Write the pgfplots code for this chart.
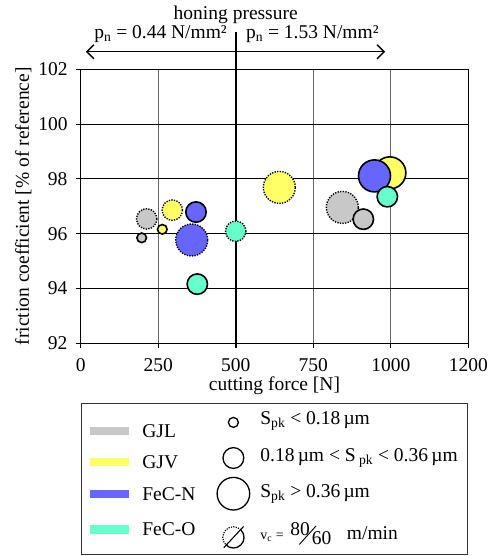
\documentclass[border=0pt]{standalone}
\usepackage{fontspec}
\setmainfont{Liberation Serif}
\usepackage{pgfplots}
\pgfplotsset{compat=1.18}
\usetikzlibrary{arrows.meta}

\definecolor{gjl}{HTML}{C8C8C8}
\definecolor{gjv}{HTML}{FFFF66}
\definecolor{fecn}{HTML}{6666FF}
\definecolor{feco}{HTML}{66FFCC}

\pgfplotsset{
  solidb/.style={only marks, mark=*, forget plot,
    mark options={solid, draw=black, line width=1.6pt, fill=#1}},
  dotb/.style={only marks, mark=*, forget plot,
    mark options={dash pattern=on 1.3pt off 1.3pt, draw=black, line width=1.4pt, fill=#1}},
  sm/.style={mark size=4.8pt},
  md/.style={mark size=10.2pt},
  lg/.style={mark size=16pt},
}

% legend swatches: bar on the left, circle on the right
\newcommand{\barimg}[3]{\addlegendimage{legend image code/.code={%
  \path[draw=none,fill=none] (0pt,-#2) rectangle (58.3pt,#3);
  \fill[#1,draw=none,overlay] (9.3pt,2.2pt) rectangle (48.3pt,10.6pt);}}}
\newcommand{\circimg}[4]{\addlegendimage{legend image code/.code={%
  \path[draw=none,fill=none] (0pt,-#3) rectangle (39pt,#4);
  \draw[black,fill=none,solid,line width=1.3pt,overlay] (15pt,#2) circle (#1);}}}
\newcommand{\lt}[3]{\raisebox{#1}[0pt][0pt]{\makebox[#2][l]{#3}}}

\begin{document}
\fontsize{19.5}{23}\selectfont
\begin{tikzpicture}
\begin{axis}[
  name=ax,
  scale only axis, width=387.6pt, height=274pt,
  xmin=0, xmax=1250, ymin=92, ymax=102,
  xtick={0,250,500,750,1000,1250},
  xticklabels={0,250,500,750,1000,1200},
  ytick={92,94,...,102},
  xtick pos=bottom, ytick pos=left,
  tick align=outside, major tick length=5pt,
  tick style={black, line width=0.9pt},
  axis line style={line width=0.9pt},
  grid=major,
  x grid style={black!60, line width=1pt},
  y grid style={black, line width=0.9pt},
  /pgf/number format/assume math mode=true,
  yticklabel style={inner sep=0pt, xshift=-8pt},
  xticklabel style={inner sep=0pt, yshift=-10.5pt},
  xlabel={cutting force [N]},
  ylabel={friction coefficient [\% of reference]},
  every axis x label/.style={at={(axis description cs:0.5,-0.173)}, anchor=base, inner sep=0pt},
  every axis y label/.style={at={(axis description cs:-0.148,0.5)}, rotate=90, anchor=center},
  clip=false,
  legend columns=2,
  legend style={at={(axis description cs:0,-0.219)}, anchor=north west,
    draw=black!80, line width=0.8pt, fill=white,
    inner xsep=0pt, inner ysep=0pt, row sep=0pt, /tikz/column sep=0pt,
    cells={anchor=west},
    nodes={draw=none, fill=none, inner sep=3pt, text depth=0pt, text height=0pt}},
]
% left group
\addplot[dotb=gjl, md] coordinates {(212.8,96.54)};
\addplot[solidb=gjl, sm] coordinates {(196.7,95.85)};
\addplot[dotb=gjv, md] coordinates {(295.4,96.86)};
\addplot[solidb=gjv, sm] coordinates {(263.2,96.16)};
\addplot[dotb=fecn, lg] coordinates {(358.0,95.77)};
\addplot[solidb=fecn, md] coordinates {(371.8,96.79)};
\addplot[solidb=feco, md] coordinates {(376.0,94.16)};
\addplot[dotb=feco, md] coordinates {(499.9,96.09)};
% right group
\addplot[dotb=gjv, lg] coordinates {(640.5,97.69)};
\addplot[dotb=gjl, lg] coordinates {(843.7,96.96)};
\addplot[solidb=gjl, md] coordinates {(911.4,96.53)};
\addplot[solidb=gjv, lg] coordinates {(997.0,98.22)};
\addplot[solidb=fecn, lg] coordinates {(947.5,98.11)};
\addplot[solidb=feco, md] coordinates {(988.8,97.35)};

% legend
\barimg{gjl}{15.5pt}{33.4pt}
\addlegendentry{\lt{0pt}{73pt}{GJL}}
\circimg{5pt}{14.7pt}{15.5pt}{33.4pt}
\addlegendentry{\lt{12.5pt}{204pt}{S\textsubscript{pk} < 0.18\,µm}}
\barimg{gjv}{16pt}{15.5pt}
\addlegendentry{\lt{0pt}{73pt}{GJV}}
\circimg{10.4pt}{10.1pt}{16pt}{15.5pt}
\addlegendentry{\lt{7pt}{204pt}{0.18\,µm < S\,\textsubscript{pk} < 0.36\,µm}}
\barimg{fecn}{17.85pt}{16pt}
\addlegendentry{\lt{0pt}{73pt}{FeC-N}}
\circimg{16.3pt}{6.4pt}{17.85pt}{16pt}
\addlegendentry{\lt{3pt}{204pt}{S\textsubscript{pk} > 0.36\,µm}}
\barimg{feco}{18.9pt}{17.85pt}
\addlegendentry{\lt{0pt}{73pt}{FeC-O}}
\addlegendimage{legend image code/.code={%
  \path[draw=none,fill=none] (0pt,-18.9pt) rectangle (39pt,17.85pt);
  \draw[black,fill=none,line width=1.2pt,dash pattern=on 1.2pt off 1.2pt,overlay] (15pt,-1.6pt) ++(45:10.6pt) arc (45:225:10.6pt);
  \draw[black,fill=none,solid,line width=1.3pt,overlay] (15pt,-1.6pt) ++(225:10.6pt) arc (225:405:10.6pt);
  \draw[black,solid,line width=1.1pt,overlay] (15pt,-1.6pt) ++(227:14pt) -- ++(47:29pt);}}
\addlegendentry{\lt{-4pt}{204pt}{{\fontsize{14}{16}\selectfont v\textsubscript{c} =}\hspace{0.35em}\raisebox{4pt}{80}\kern-11pt\raisebox{-5pt}{\rotatebox{48}{\rule{25pt}{0.9pt}}}\kern-4.5pt\raisebox{-5pt}{60}\hspace{0.8em}m/min}}

% honing pressure annotation
\draw[line width=1.6pt] (axis cs:500,91.82) -- (axis cs:500,103.36);
\draw[{Straight Barb[length=7pt,width=14pt]}-{Straight Barb[length=7pt,width=14pt]}, line width=1.4pt]
  (axis cs:17,102.64) -- (axis cs:982,102.64);
\node[anchor=base, inner sep=0pt] at (axis cs:500,103.83) {honing pressure};
\node[anchor=base east, inner sep=0pt] at (axis cs:472,103.14) {p\textsubscript{n} = 0.44 N/mm²};
\node[anchor=base west, inner sep=0pt] at (axis cs:533,103.14) {p\textsubscript{n} = 1.53 N/mm²};
\end{axis}
\pgfresetboundingbox
\path (ax.south west) ++(-80.7pt,343.3pt) rectangle ++(489pt,-556pt);
\end{tikzpicture}
\end{document}
